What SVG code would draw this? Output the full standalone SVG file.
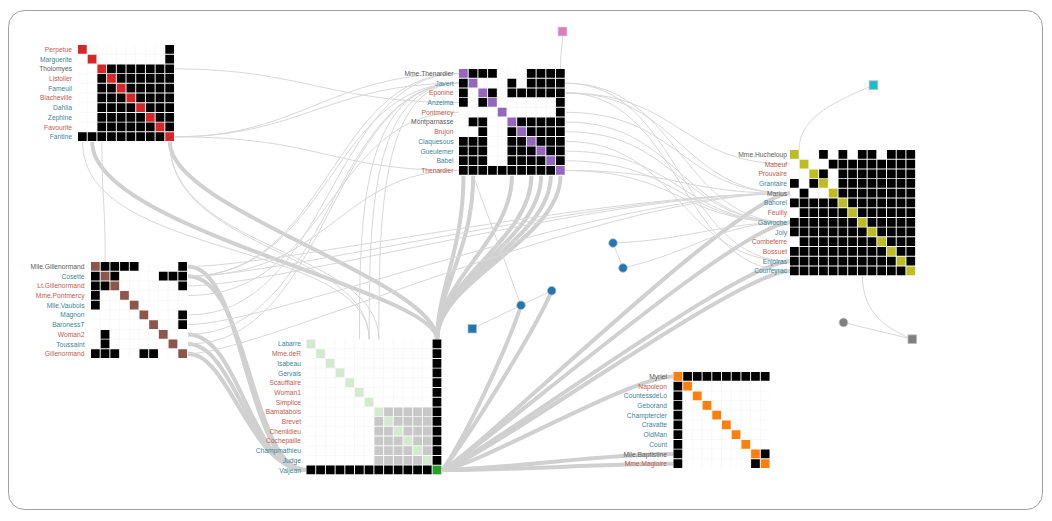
<svg xmlns="http://www.w3.org/2000/svg" width="1052" height="521" viewBox="0 0 1052 521">
<style>
.e{fill:none;stroke:#d8d8d8;stroke-width:1}
.w{fill:none;stroke:#d0d0d0;stroke-width:4}
.c{fill:none;stroke-width:.9;stroke-dasharray:.9 .1}
.k{stroke:#000}
.l{font-family:"Liberation Sans",Arial,sans-serif;font-size:6.7px;text-anchor:end}
.r{fill:#bd5c4f}.t{fill:#3d8597}.d{fill:#5a5a5a}
.sq{stroke:#bbb;stroke-width:.8}
</style>
<defs>
<pattern id="gr" width="1" height="1" patternUnits="userSpaceOnUse"><rect width="1" height="1" fill="#fff"/><path d="M.95 0v1M0 .95h1" stroke="#f3f3f3" stroke-width=".06"/></pattern>
</defs>
<rect x="8.5" y="10.5" width="1034" height="499" rx="16" fill="#fff" stroke="#a0a0a0"/>
<g id="edges">
<path class="w" d="M463.5,175.7 C463.5,250 437.1,290 437.1,339.5"/>
<path class="w" d="M473.2,175.7 C473.2,250 437.1,290 437.1,339.5"/>
<path class="w" d="M512,175.7 C512,240 437.1,280 437.1,339.5"/>
<path class="w" d="M531.4,175.7 C531.4,240 437.1,280 437.1,339.5"/>
<path class="w" d="M541.1,175.7 C541.1,240 437.1,280 437.1,339.5"/>
<path class="w" d="M550.8,175.7 C550.8,240 437.1,280 437.1,339.5"/>
<path class="w" d="M560.5,175.7 C560.5,240 437.1,280 437.1,339.5"/>
<path class="w" d="M169.8,142 C169.8,210 437.1,280 437.1,339.5"/>
<path class="w" d="M92.2,142 C92.2,230 437.1,290 437.1,339.5"/>
<path class="w" d="M188,266.5 C245,266.5 245,470.1 306.5,470.1"/>
<path class="w" d="M188,276.2 C250,276.2 250,470.1 306.5,470.1"/>
<path class="w" d="M188,334.4 C240,334.4 250,470.1 306.5,470.1"/>
<path class="w" d="M188,344.1 C235,344.1 250,470.1 306.5,470.1"/>
<path class="w" d="M188,353.8 C230,353.8 250,470.1 306.5,470.1"/>
<path class="w" d="M442.6,470.1 C480,465 630,376.5 673.5,376.5"/>
<path class="w" d="M442.6,470.1 C520,468 600,454.1 673.5,454.1"/>
<path class="w" d="M442.6,470.1 C520,470 600,463.8 673.5,463.8"/>
<path class="w" d="M442.6,470.1 C480,450 740,193.3 790,193.3"/>
<path class="w" d="M442.6,470.1 C480,450 740,222.4 790,222.4"/>
<path class="w" d="M442.6,470.1 C490,450 740,261.2 790,261.2"/>
<path class="w" d="M442.6,470.1 C490,455 740,270.9 790,270.9"/>
<path class="w" d="M442.6,470.1 C480,420 540,320 551.7,290.7"/>
<path class="w" d="M442.6,470.1 C470,430 510,340 521,305.3"/>
<path class="e" d="M188,266.5 C280,266.5 600,193.3 790,193.3"/>
<path class="e" d="M188,276.2 C280,276.2 600,193.3 790,193.3"/>
<path class="e" d="M188,285.9 C280,285.9 600,193.3 790,193.3"/>
<path class="e" d="M188,324.7 C270,324.7 600,193.3 790,193.3"/>
<path class="e" d="M188,353.8 C260,353.8 600,193.3 790,193.3"/>
<path class="e" d="M188,276.2 C330,276.2 330,73.5 459,73.5"/>
<path class="e" d="M188,276.2 C330,276.2 340,170.5 459,170.5"/>
<path class="e" d="M188,276.2 C330,276.2 330,83.2 459,83.2"/>
<path class="e" d="M188,334.4 C330,334.4 330,83.2 459,83.2"/>
<path class="e" d="M188,344.1 C330,344.1 330,83.2 459,83.2"/>
<path class="e" d="M188,295.6 C330,295.6 330,112.3 459,112.3"/>
<path class="e" d="M188,315 C330,315 330,73.5 459,73.5"/>
<path class="e" d="M175,136.8 C300,136.8 330,73.5 459,73.5"/>
<path class="e" d="M175,136.8 C320,136.8 330,170.5 459,170.5"/>
<path class="e" d="M175,136.8 C300,136.8 330,83.2 459,83.2"/>
<path class="e" d="M175,68.9 C300,68.9 330,102.6 459,102.6"/>
<path class="e" d="M459,83.2 C360,83.2 359.5,220 359.5,339.5"/>
<path class="e" d="M459,83.2 C370,83.2 369.2,220 369.2,339.5"/>
<path class="e" d="M459,83.2 C380,83.2 378.9,220 378.9,339.5"/>
<path class="e" d="M82.5,142 C82.5,260 369.2,240 369.2,339.5"/>
<path class="e" d="M169.8,142 C169.8,250 369.2,250 369.2,339.5"/>
<path class="e" d="M169.8,142 C169.8,250 378.9,250 378.9,339.5"/>
<path class="e" d="M101.9,142 C101.9,200 105.2,200 105.2,262"/>
<path class="e" d="M565.7,83.2 C680,83.2 680,222.4 790,222.4"/>
<path class="e" d="M565.7,83.2 C680,83.2 680,261.2 790,261.2"/>
<path class="e" d="M565.7,92.9 C680,92.9 680,193.3 790,193.3"/>
<path class="e" d="M565.7,92.9 C680,92.9 680,270.9 790,270.9"/>
<path class="e" d="M565.7,92.9 C680,92.9 680,164.2 790,164.2"/>
<path class="e" d="M565.7,112.3 C680,112.3 680,193.3 790,193.3"/>
<path class="e" d="M565.7,122 C680,122 680,222.4 790,222.4"/>
<path class="e" d="M565.7,131.7 C680,131.7 680,222.4 790,222.4"/>
<path class="e" d="M565.7,141.4 C680,141.4 680,261.2 790,261.2"/>
<path class="e" d="M565.7,151.1 C680,151.1 680,222.4 790,222.4"/>
<path class="e" d="M565.7,160.8 C680,160.8 680,222.4 790,222.4"/>
<path class="e" d="M565.7,170.5 C680,170.5 680,193.3 790,193.3"/>
<path class="e" d="M565.7,170.5 C680,170.5 680,222.4 790,222.4"/>
<path class="e" d="M613,243 L623,268"/>
<path class="e" d="M613,243 C690,240 720,222.4 790,222.4"/>
<path class="e" d="M623,268 C700,250 720,222.4 790,222.4"/>
<path class="e" d="M551.7,290.7 L521,305.3"/>
<path class="e" d="M521,305.3 L472.3,328.7"/>
<path class="e" d="M521,305.3 L473.2,175.7"/>
<path class="e" d="M562.5,31.5 C562.5,50 560.5,50 560.5,69"/>
<path class="e" d="M873.5,85 C840,100 799,115 799,150"/>
<path class="e" d="M843.5,322.5 L912.3,339.2"/>
<path class="e" d="M862.4,276.1 C862.4,315 890,330 912.3,339.2"/>
</g>
<g id="m-fantine">
<g transform="translate(78,45) scale(9.7)">
<rect width="9.9" height="9.9" fill="url(#gr)"/>
<path class="c k" d="M9 .45h1M9 1.45h1M3 2.45h7M2 3.45h1M4 3.45h6M2 4.45h2M5 4.45h5M2 5.45h3M6 5.45h4M2 6.45h4M7 6.45h3M2 7.45h5M8 7.45h2M2 8.45h6M9 8.45h1M0 9.45h9"/>
<path class="c" stroke="#d62728" d="M0 .45h.9M1 1.45h.9M2 2.45h.9M3 3.45h.9M4 4.45h.9M5 5.45h.9M6 6.45h.9M7 7.45h.9M8 8.45h.9M9 9.45h.9"/>
</g>
<g class="l">
<text x="72" y="51.9" class="r">Perpetue</text>
<text x="72" y="61.6" class="t">Marguerite</text>
<text x="72" y="71.3" class="d">Tholomyes</text>
<text x="72" y="81" class="r">Listolier</text>
<text x="72" y="90.7" class="t">Fameuil</text>
<text x="72" y="100.4" class="r">Blacheville</text>
<text x="72" y="110.1" class="t">Dahlia</text>
<text x="72" y="119.8" class="t">Zephine</text>
<text x="72" y="129.5" class="r">Favourite</text>
<text x="72" y="139.2" class="t">Fantine</text>
</g>
</g>
<g id="m-thenardier">
<g transform="translate(459,69) scale(9.7)">
<rect width="10.9" height="10.9" fill="url(#gr)"/>
<path class="c k" d="M1 .45h3M7 .45h4M0 1.45h1M5 1.45h1M7 1.45h4M0 2.45h1M3 2.45h1M5 2.45h6M0 3.45h1M2 3.45h1M10 3.45h1M10 4.45h1M1 5.45h2M6 5.45h5M2 6.45h1M5 6.45h1M7 6.45h4M0 7.45h3M5 7.45h2M8 7.45h3M0 8.45h3M5 8.45h3M9 8.45h2M0 9.45h3M5 9.45h4M10 9.45h1M0 10.45h10"/>
<path class="c" stroke="#9467bd" d="M0 .45h.9M1 1.45h.9M2 2.45h.9M3 3.45h.9M4 4.45h.9M5 5.45h.9M6 6.45h.9M7 7.45h.9M8 8.45h.9M9 9.45h.9M10 10.45h.9"/>
</g>
<g class="l">
<text x="453.5" y="75.9" class="d">Mme.Thenardier</text>
<text x="453.5" y="85.6" class="t">Javert</text>
<text x="453.5" y="95.3" class="r">Eponine</text>
<text x="453.5" y="105" class="t">Anzelma</text>
<text x="453.5" y="114.7" class="r">Pontmercy</text>
<text x="453.5" y="124.4" class="d">Montparnasse</text>
<text x="453.5" y="134.1" class="r">Brujon</text>
<text x="453.5" y="143.8" class="t">Claquesous</text>
<text x="453.5" y="153.5" class="t">Gueulemer</text>
<text x="453.5" y="163.2" class="t">Babel</text>
<text x="453.5" y="172.9" class="r">Thenardier</text>
</g>
</g>
<g id="m-marius">
<g transform="translate(790,150) scale(9.7)">
<rect width="12.9" height="12.9" fill="url(#gr)"/>
<path class="c k" d="M3 .45h1M5 .45h1M7 .45h2M10 .45h3M4 1.45h9M3 2.45h1M5 2.45h8M0 3.45h1M2 3.45h1M5 3.45h8M1 4.45h1M5 4.45h8M0 5.45h5M6 5.45h7M1 6.45h5M7 6.45h6M0 7.45h7M8 7.45h5M0 8.45h8M9 8.45h4M1 9.45h8M10 9.45h3M0 10.45h10M11 10.45h2M0 11.45h11M12 11.45h1M0 12.45h12"/>
<path class="c" stroke="#bcbd22" d="M0 .45h.9M1 1.45h.9M2 2.45h.9M3 3.45h.9M4 4.45h.9M5 5.45h.9M6 6.45h.9M7 7.45h.9M8 8.45h.9M9 9.45h.9M10 10.45h.9M11 11.45h.9M12 12.45h.9"/>
</g>
<g class="l">
<text x="787" y="156.9" class="d">Mme.Hucheloup</text>
<text x="787" y="166.6" class="r">Mabeuf</text>
<text x="787" y="176.3" class="r">Prouvaire</text>
<text x="787" y="186" class="t">Grantaire</text>
<text x="787" y="195.7" class="d">Marius</text>
<text x="787" y="205.4" class="t">Bahorel</text>
<text x="787" y="215.1" class="r">Feuilly</text>
<text x="787" y="224.8" class="t">Gavroche</text>
<text x="787" y="234.5" class="t">Joly</text>
<text x="787" y="244.2" class="r">Combeferre</text>
<text x="787" y="253.9" class="r">Bossuet</text>
<text x="787" y="263.6" class="t">Enjolras</text>
<text x="787" y="273.3" class="t">Courfeyrac</text>
</g>
</g>
<g id="m-gillenormand">
<g transform="translate(91,262) scale(9.7)">
<rect width="9.9" height="9.9" fill="url(#gr)"/>
<path class="c k" d="M1 .45h4M9 .45h1M0 1.45h1M2 1.45h1M7 1.45h3M0 2.45h2M9 2.45h1M0 3.45h1M0 4.45h1M9 5.45h1M9 6.45h1M1 7.45h1M1 8.45h1M0 9.45h3M5 9.45h2"/>
<path class="c" stroke="#8c564b" d="M0 .45h.9M1 1.45h.9M2 2.45h.9M3 3.45h.9M4 4.45h.9M5 5.45h.9M6 6.45h.9M7 7.45h.9M8 8.45h.9M9 9.45h.9"/>
</g>
<g class="l">
<text x="84.5" y="268.9" class="d">Mlle.Gillenormand</text>
<text x="84.5" y="278.6" class="t">Cosette</text>
<text x="84.5" y="288.3" class="r">Lt.Gillenormand</text>
<text x="84.5" y="298" class="r">Mme.Pontmercy</text>
<text x="84.5" y="307.7" class="t">Mlle.Vaubois</text>
<text x="84.5" y="317.4" class="t">Magnon</text>
<text x="84.5" y="327.1" class="t">BaronessT</text>
<text x="84.5" y="336.8" class="r">Woman2</text>
<text x="84.5" y="346.5" class="t">Toussaint</text>
<text x="84.5" y="356.2" class="r">Gillenormand</text>
</g>
</g>
<g id="m-valjean">
<g transform="translate(306.5,339.5) scale(9.7)">
<rect width="13.9" height="13.9" fill="url(#gr)"/>
<path class="c" stroke="#c8c8c8" d="M8 7.45h5M7 8.45h1M9 8.45h4M7 9.45h2M10 9.45h3M7 10.45h3M11 10.45h2M7 11.45h4M12 11.45h1M7 12.45h5"/>
<path class="c k" d="M0 13.45h13M13.45 0v13"/>
<path class="c" stroke="#d3ead0" d="M0 .45h.9M1 1.45h.9M2 2.45h.9M3 3.45h.9M4 4.45h.9M5 5.45h.9M6 6.45h.9M7 7.45h.9M8 8.45h.9M9 9.45h.9M10 10.45h.9M11 11.45h.9M12 12.45h.9"/>
<path class="c" stroke="#2ca02c" d="M13 13.45h.9"/>
</g>
<g class="l">
<text x="301" y="346.4" class="t">Labarre</text>
<text x="301" y="356.1" class="r">Mme.deR</text>
<text x="301" y="365.8" class="t">Isabeau</text>
<text x="301" y="375.5" class="t">Gervais</text>
<text x="301" y="385.2" class="r">Scaufflaire</text>
<text x="301" y="394.9" class="r">Woman1</text>
<text x="301" y="404.6" class="r">Simplice</text>
<text x="301" y="414.3" class="r">Bamatabois</text>
<text x="301" y="424" class="r">Brevet</text>
<text x="301" y="433.7" class="r">Chenildieu</text>
<text x="301" y="443.4" class="r">Cochepaille</text>
<text x="301" y="453.1" class="t">Champmathieu</text>
<text x="301" y="462.8" class="t">Judge</text>
<text x="301" y="472.5" class="t">Valjean</text>
</g>
</g>
<g id="m-myriel">
<g transform="translate(673.5,372) scale(9.7)">
<rect width="9.9" height="9.9" fill="url(#gr)"/>
<path class="c k" d="M1 .45h9M.45 1v9M9 8.45h1M8 9.45h1"/>
<path class="c" stroke="#ff7f0e" d="M0 .45h.9M1 1.45h.9M2 2.45h.9M3 3.45h.9M4 4.45h.9M5 5.45h.9M6 6.45h.9M7 7.45h.9M8 8.45h.9M9 9.45h.9"/>
</g>
<g class="l">
<text x="667" y="378.9" class="d">Myriel</text>
<text x="667" y="388.6" class="r">Napoleon</text>
<text x="667" y="398.3" class="t">CountessdeLo</text>
<text x="667" y="408" class="t">Geborand</text>
<text x="667" y="417.7" class="t">Champtercier</text>
<text x="667" y="427.4" class="t">Cravatte</text>
<text x="667" y="437.1" class="t">OldMan</text>
<text x="667" y="446.8" class="t">Count</text>
<text x="667" y="456.5" class="d">Mlle.Baptistine</text>
<text x="667" y="466.2" class="r">Mme.Magloire</text>
</g>
</g>
<g id="n-pink"><rect class="sq" x="558.2" y="27.2" width="8.6" height="8.6" fill="#e377c2"/></g>
<g id="n-cyan"><rect class="sq" x="869.2" y="80.8" width="8.6" height="8.6" fill="#17becf"/></g>
<g id="n-gray-square"><rect class="sq" x="908" y="334.9" width="8.6" height="8.6" fill="#7f7f7f"/></g>
<g id="n-gray-circle"><circle class="sq" cx="843.5" cy="322.5" r="4.3" fill="#7f7f7f"/></g>
<g id="n-blue-a"><circle class="sq" cx="613" cy="243" r="4.3" fill="#1f77b4"/></g>
<g id="n-blue-b"><circle class="sq" cx="623" cy="268" r="4.3" fill="#1f77b4"/></g>
<g id="n-blue-c"><circle class="sq" cx="551.7" cy="290.7" r="4.3" fill="#1f77b4"/></g>
<g id="n-blue-d"><circle class="sq" cx="521" cy="305.3" r="4.3" fill="#1f77b4"/></g>
<g id="n-blue-square"><rect class="sq" x="468" y="324.4" width="8.6" height="8.6" fill="#1f77b4"/></g>
</svg>
